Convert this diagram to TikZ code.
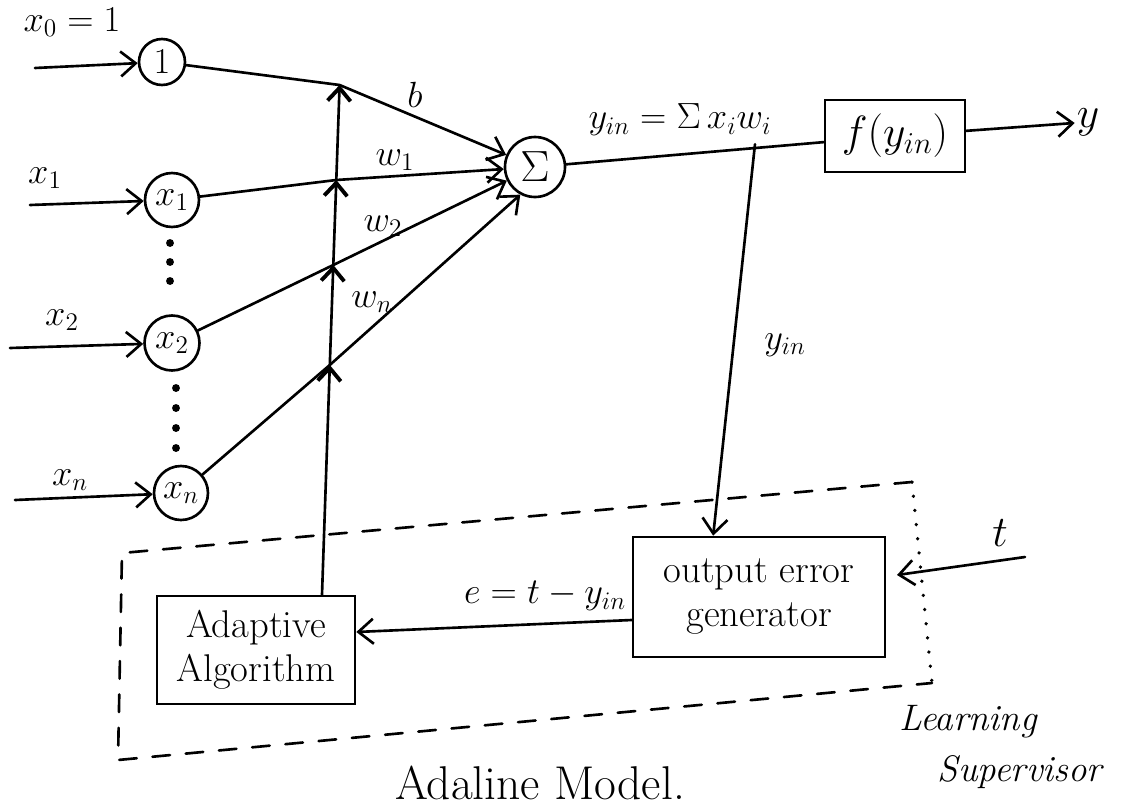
\documentclass[tikz,border=0pt]{standalone}
\usetikzlibrary{arrows.meta,calc}
\begin{document}
\begin{tikzpicture}[x=0.02cm,y=-0.02cm,
  pen/.style={line width=1.5pt,line cap=round,line join=round},
  tip/.style={-{Straight Barb[length=3mm,width=5mm,line width=1.5pt]}},
  uptip/.style={-{Straight Barb[length=2.6mm,width=4.6mm,line width=2.2pt]}},
  neuron/.style={circle,draw,line width=1.5pt,inner sep=0pt,font=\fontsize{20}{24}\selectfont},
  blk/.style={draw,line width=1.5pt,align=center,font=\fontsize{22}{25}\selectfont},
  lbl/.style={font=\fontsize{22}{25}\selectfont,inner sep=1pt},
  dot/.style={circle,fill,inner sep=0pt,minimum size=4.5pt}]
\useasboundingbox (0,0) rectangle (1142,808);

% input neurons
\node[neuron,minimum size=0.92cm] (one) at (162,62) {$1$};
\node[neuron,minimum size=1.08cm] (x1) at (172,200) {$x_1$};
\node[neuron,minimum size=1.1cm] (x2) at (172,343) {$x_2$};
\node[neuron,minimum size=1.08cm] (xn) at (181,493) {$x_n$};
\node[neuron,minimum size=1.2cm,font=\fontsize{24}{28}\selectfont] (sig) at (535,167) {$\Sigma$};

% input labels and free ends
\node[lbl] (lx0) at (72,22) {$x_0=1$};
\node[lbl] (lx1) at (45,178) {$x_1$};
\node[lbl] (lx2) at (62,320) {$x_2$};
\node[lbl] (lxn) at (70,480) {$x_n$};
\coordinate (i0) at (35,68);
\coordinate (i1) at (30,205);
\coordinate (i2) at (10,348);
\coordinate (in) at (15,500);
\draw[pen,tip] (i0) -- (one);
\draw[pen,tip] (i1) -- (x1);
\draw[pen,tip] (i2) -- (x2);
\draw[pen,tip] (in) -- (xn);

% dotted continuation between inputs
\foreach \y in {243,262,281} \node[dot] at (170,\y) {};
\foreach \y in {388,408,428,448} \node[dot] at (176,\y) {};

% blocks
\node[blk,minimum width=3.96cm,minimum height=2.16cm] (adapt) at (256,650) {Adaptive\\Algorithm};
\node[blk,minimum width=5.04cm,minimum height=2.4cm] (oeg) at (759,597) {output error\\generator};
\node[blk,minimum width=2.8cm,minimum height=1.44cm,font=\fontsize{25}{28}\selectfont] (fbox) at (895,136) {$f(y_{in})$};

% crossing points on the weight-update line
\coordinate (c0) at (339.6,85);
\coordinate (c1) at (336.3,180);
\coordinate (c2) at (333.3,265);
\coordinate (c3) at (329.8,365);

% weighted connections
\draw[pen,tip] (one) -- (c0) -- (sig);
\draw[pen,tip] (x1) -- (c1) -- (sig);
\draw[pen,tip] (x2) -- (c2) -- (sig);
\draw[pen,tip] (xn) -- (c3) -- (sig.-118);
\node[lbl] (lb) at (415,95) {$b$};
\node[lbl] (lw1) at (395,160) {$w_1$};
\node[lbl] (lw2) at (383,226) {$w_2$};
\node[lbl] (lwn) at (372,302) {$w_n$};

% weight update line from adaptive algorithm
\draw[pen,uptip] (adapt.north -| 322,0) -- (c3);
\draw[pen,uptip] (c3) -- (c2);
\draw[pen,uptip] (c2) -- (c1);
\draw[pen,uptip] (c1) -- (c0);

% output path
\draw[pen] (sig) -- (fbox);
\node[lbl] (lyin) at (680,120) {$y_{in}=\Sigma\, x_i w_i$};
\node[lbl,font=\fontsize{26}{30}\selectfont] (yout) at (1088,122) {$y$};
\draw[pen,tip] (fbox) -- (yout);

% branch to output error generator
\coordinate (br) at ($(sig.east)!0.733!(fbox.west)$);
\coordinate (oin) at ($(oeg.north west)!0.32!(oeg.north east)$);
\draw[pen,tip] (br) -- (oin);
\node[lbl] (lyin2) at (785,345) {$y_{in}$};

% target input
\node[lbl,font=\fontsize{25}{28}\selectfont] (lt) at (1000,533) {$t$};
\coordinate (tin) at (1025,557);
\coordinate (tend) at (897,575);
\draw[pen,tip] (tin) -- (tend);

% error to adaptive algorithm
\draw[pen,tip] (oeg.west |- 0,620) -- (adapt.east |- 0,632);
\node[lbl] (le) at (545,596) {$e=t-y_{in}$};

% learning supervisor boundary
\coordinate (d1) at (122,553);
\coordinate (d2) at (912,482);
\coordinate (d3) at (932,683);
\coordinate (d4) at (118,760);
\draw[pen,dash pattern=on 10pt off 9pt] (d2) -- (d1) -- (d4) -- (d3);
\draw[line width=2pt,line cap=round,dash pattern=on 0.1pt off 8pt] (d2) -- (d3);
\node[font=\fontsize{21}{24}\selectfont\itshape] (ll) at (968,722) {Learning};
\node[font=\fontsize{21}{24}\selectfont\itshape] (ls) at (1020,772) {Supervisor};

% caption
\node[font=\fontsize{27}{30}\selectfont,anchor=south] (cap) at (540,806) {Adaline Model.};
\end{tikzpicture}
\end{document}
